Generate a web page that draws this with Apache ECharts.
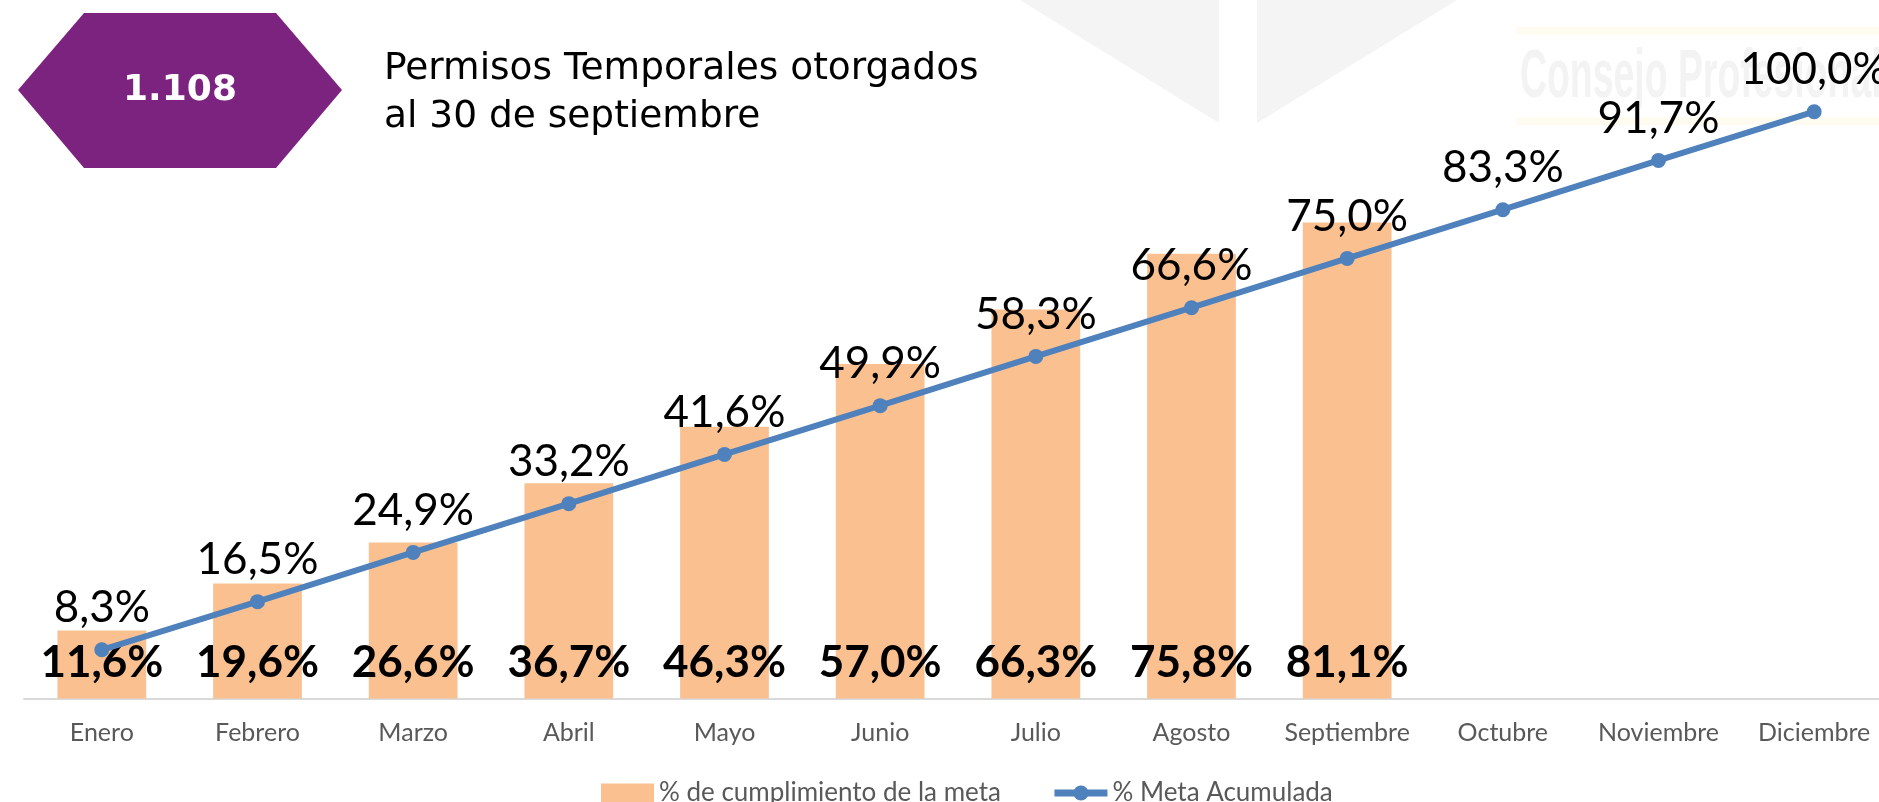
<!DOCTYPE html>
<html>
<head>
<meta charset="utf-8">
<title>Permisos Temporales</title>
<script src="https://cdn.jsdelivr.net/npm/echarts@6/dist/echarts.min.js"></script>
<style>
  html, body { margin: 0; padding: 0; background: #fff; }
  #chart { width: 1879px; height: 802px; }
</style>
</head>
<body>
<div id="chart"></div>
<script>
const months = ['Enero', 'Febrero', 'Marzo', 'Abril', 'Mayo', 'Junio', 'Julio', 'Agosto', 'Septiembre', 'Octubre', 'Noviembre', 'Diciembre']
const cumplimiento = [11.6, 19.6, 26.6, 36.7, 46.3, 57.0, 66.3, 75.8, 81.1]
const metaAcumulada = [8.3, 16.5, 24.9, 33.2, 41.6, 49.9, 58.3, 66.6, 75.0, 83.3, 91.7, 100.0]
const totalPermisos = '1.108'
const titleLines = ['Permisos Temporales otorgados', 'al 30 de septiembre']

const barName = '% de cumplimiento de la meta'
const lineName = '% Meta Acumulada'
const barColor = '#FAC090'
const lineColor = '#4F81BD'
const excelFont = 'Lato, "Open Sans", sans-serif'

const pct = (v) => v.toFixed(1).replace('.', ',') + '%'

const chart = echarts.init(document.getElementById('chart'))

chart.setOption({
  backgroundColor: '#fff',
  animation: false,
  graphic: [
    // faint logo watermark in the background
    { type: 'polygon', z: -10, shape: { points: [[1020, 0], [1219, 0], [1219, 123]] }, style: { fill: '#f4f4f4' } },
    { type: 'polygon', z: -10, shape: { points: [[1257, 0], [1457, 0], [1257, 123]] }, style: { fill: '#f4f4f4' } },
    { type: 'rect', z: -10, shape: { x: 1516, y: 27, width: 400, height: 8 }, style: { fill: '#fffbf0' } },
    { type: 'rect', z: -10, shape: { x: 1516, y: 117, width: 400, height: 8 }, style: { fill: '#fffbf0' } },
    {
      type: 'text', z: -10, x: 1520, y: 44, scaleX: 0.55,
      style: { text: 'Consejo Profesional', fill: '#f3f3f3', font: 'bold 68px "Liberation Sans", sans-serif' }
    },
    // purple hexagon with total
    {
      type: 'polygon',
      shape: { points: [[18, 90], [84, 13], [276, 13], [342, 90], [276, 168], [84, 168]] },
      style: { fill: '#7B237E' }
    },
    {
      type: 'text', x: 180, y: 91,
      style: { text: totalPermisos, fill: '#fff', font: 'bold 36px "DejaVu Sans", Verdana, sans-serif', align: 'center', verticalAlign: 'middle' }
    },
    {
      type: 'text', x: 384, y: 45,
      style: { text: titleLines.join('\n'), fill: '#000', font: '37.5px "DejaVu Sans", Verdana, sans-serif', lineHeight: 48 }
    }
  ],
  legend: {
    left: 596,
    top: 775,
    itemWidth: 53,
    itemHeight: 19,
    itemGap: 50,
    textStyle: { color: '#595959', fontSize: 26, fontFamily: excelFont },
    data: [
      { name: barName, icon: 'rect' },
      { name: lineName, lineStyle: { width: 7 }, itemStyle: { color: lineColor } }
    ]
  },
  grid: { left: 24, width: 1868, top: 53, bottom: 103.5, outerBoundsMode: 'none', containLabel: false },
  xAxis: {
    type: 'category',
    data: months,
    axisLine: { lineStyle: { color: '#D9D9D9', width: 2 } },
    axisTick: { show: false },
    axisLabel: { color: '#595959', fontSize: 25, fontFamily: excelFont, margin: 22, interval: 0 }
  },
  yAxis: {
    type: 'value',
    min: 0,
    max: 110,
    show: false,
    splitLine: { show: false }
  },
  series: [
    {
      name: barName,
      type: 'bar',
      data: cumplimiento,
      barCategoryGap: '43%',
      itemStyle: { color: barColor },
      z: 2,
      label: {
        show: true,
        position: 'insideBottom',
        distance: 14,
        formatter: (p) => pct(p.value),
        color: '#000',
        fontSize: 44,
        fontWeight: 'bold',
        fontFamily: excelFont
      }
    },
    {
      name: lineName,
      type: 'line',
      data: metaAcumulada,
      z: 5,
      symbol: 'circle',
      symbolSize: 15,
      lineStyle: { color: lineColor, width: 6 },
      itemStyle: { color: lineColor },
      label: {
        show: true,
        position: 'top',
        distance: 12,
        formatter: (p) => pct(p.value),
        color: '#000',
        fontSize: 44,
        fontFamily: excelFont
      }
    }
  ]
})
</script>
</body>
</html>
